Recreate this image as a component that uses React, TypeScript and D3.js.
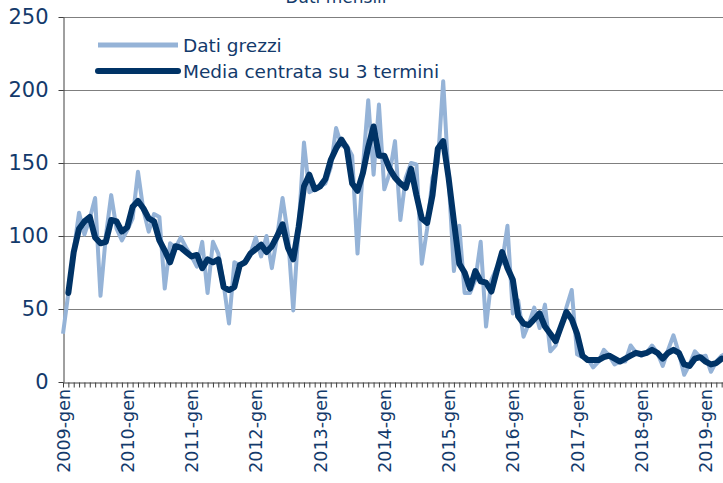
import * as d3 from "d3";
import { useEffect, useRef } from "react";

// anni e mesi dell'asse delle categorie
const years = [2009, 2010, 2011, 2012, 2013, 2014, 2015, 2016, 2017, 2018, 2019];
const monthNames = ["gen", "feb", "mar", "apr", "mag", "giu", "lug", "ago", "set", "ott", "nov", "dic"];
const yTicks = [0, 50, 100, 150, 200, 250];

// Dati grezzi (da 2009-gen)
const rawValues = [
  33, 61, 90, 116, 101, 112, 126, 59, 100, 128, 105, 97,
  104, 112, 144, 118, 103, 115, 113, 64, 95, 92, 99, 92,
  86, 79, 96, 61, 96, 88, 67, 40, 82, 80, 83, 88,
  99, 86, 100, 78, 100, 126, 101, 49, 106, 164, 130, 132,
  134, 136, 147, 174, 162, 162, 155, 88, 147, 193, 142, 190,
  132, 143, 165, 111, 140, 150, 149, 81, 105, 140, 150, 206,
  140, 76, 107, 61, 61, 70, 96, 38, 70, 78, 82, 107,
  47, 56, 31, 40, 51, 37, 53, 21, 25, 38, 51, 63,
  19, 17, 16, 10, 14, 22, 18, 12, 14, 14, 25, 20,
  18, 20, 25, 20, 11, 22, 32, 20, 5, 12, 21, 17,
  18, 7, 14, 18, 20,
];

// Media centrata su 3 termini (il primo mese manca)
const avgValues = [
  null, 61, 89, 105, 110, 113, 99, 95, 96, 111, 110, 103,
  106, 120, 124, 119, 112, 110, 97, 90, 82, 93, 92, 89,
  86, 87, 78, 84, 82, 84, 65, 63, 65, 80, 82, 88,
  91, 94, 89, 93, 100, 108, 92, 84, 106, 134, 142, 132,
  134, 139, 152, 160, 166, 160, 136, 131, 143, 161, 175, 155,
  155, 146, 140, 136, 133, 146, 128, 112, 109, 128, 160, 165,
  140, 110, 81, 75, 64, 76, 69, 68, 62, 76, 89, 78,
  70, 45, 40, 39, 43, 47, 38, 33, 28, 38, 48, 43,
  33, 18, 15, 15, 15, 17, 18, 16, 14, 16, 18, 20,
  19, 20, 22, 20, 16, 20, 22, 20, 12, 11, 16, 17,
  14, 12, 13, 16, null,
];

const labels = years.flatMap((y) => monthNames.map((m) => `${y}-${m}`)).slice(0, rawValues.length);

export default function App() {
  const ref = useRef<SVGSVGElement | null>(null);

  useEffect(() => {
    const width = 723;
    const height = 483;
    const margin = { top: 17, left: 63, bottom: 101 };
    const step = 5.355;
    const font = "'DejaVu Sans', Verdana, sans-serif";
    const textColor = "#133a6b";

    const svg = d3.select(ref.current);
    svg.selectAll("*").remove();

    const x = d3
      .scaleLinear()
      .domain([0, labels.length - 1])
      .range([margin.left, margin.left + (labels.length - 1) * step]);
    const y = d3
      .scaleLinear()
      .domain([0, 250])
      .range([height - margin.bottom, margin.top]);

    // titolo (tagliato in alto come nell'originale)
    svg
      .append("text")
      .attr("x", 336)
      .attr("y", 3)
      .attr("text-anchor", "middle")
      .attr("font-family", font)
      .attr("font-size", 17)
      .attr("fill", textColor)
      .text("Dati mensili");

    // griglia
    svg
      .append("g")
      .selectAll("line")
      .data(yTicks.filter((d) => d > 0))
      .join("line")
      .attr("x1", margin.left)
      .attr("x2", width)
      .attr("y1", (d) => y(d) + 0.5)
      .attr("y2", (d) => y(d) + 0.5)
      .attr("stroke", "#7f7f7f")
      .attr("stroke-width", 1);

    // asse y
    const yAxis = svg
      .append("g")
      .attr("transform", `translate(${margin.left + 0.5},0)`)
      .call(d3.axisLeft(y).tickValues(yTicks).tickSize(5).tickSizeOuter(0));
    yAxis.select(".domain").attr("stroke", "#404040");
    yAxis.selectAll(".tick line").attr("stroke", "#404040");
    yAxis
      .selectAll(".tick text")
      .attr("font-family", font)
      .attr("font-size", 21)
      .attr("fill", textColor)
      .attr("x", -15);

    // serie
    const rawLine = d3
      .line<number>()
      .x((_, i) => x(i))
      .y((d) => y(d));
    const avgLine = d3
      .line<number | null>()
      .defined((d) => d != null)
      .x((_, i) => x(i))
      .y((d) => y(d as number));

    svg
      .append("path")
      .datum(rawValues)
      .attr("fill", "none")
      .attr("stroke", "#95b3d7")
      .attr("stroke-width", 4)
      .attr("stroke-linejoin", "round")
      .attr("d", rawLine);

    svg
      .append("path")
      .datum(avgValues)
      .attr("fill", "none")
      .attr("stroke", "#003366")
      .attr("stroke-width", 6)
      .attr("stroke-linejoin", "round")
      .attr("stroke-linecap", "round")
      .attr("d", avgLine);

    // asse x
    const xAxis = svg
      .append("g")
      .attr("transform", `translate(0,${height - margin.bottom + 0.5})`)
      .call(
        d3
          .axisBottom(x)
          .tickValues(d3.range(labels.length))
          .tickSize(5)
          .tickSizeOuter(0)
          .tickFormat(() => "")
      );
    xAxis.select(".domain").attr("stroke", "#404040");
    xAxis.selectAll(".tick line").attr("stroke", "#404040");

    svg
      .append("g")
      .selectAll("text")
      .data(labels.map((l, i) => ({ l, i })).filter((d) => d.l.endsWith("-gen")))
      .join("text")
      .attr("transform", (d) => `translate(${x(d.i) + 6.5},${height - margin.bottom + 7}) rotate(-90)`)
      .attr("text-anchor", "end")
      .attr("font-family", font)
      .attr("font-size", 17.5)
      .attr("fill", textColor)
      .text((d) => d.l);

    // legenda
    const legend = [
      { name: "Dati grezzi", color: "#95b3d7", w: 5, cap: "butt", y: 45 },
      { name: "Media centrata su 3 termini", color: "#003366", w: 6, cap: "round", y: 71 },
    ];
    const lg = svg.append("g").selectAll("g").data(legend).join("g");
    lg.append("line")
      .attr("x1", 98)
      .attr("x2", 178)
      .attr("y1", (d) => d.y)
      .attr("y2", (d) => d.y)
      .attr("stroke", (d) => d.color)
      .attr("stroke-width", (d) => d.w)
      .attr("stroke-linecap", (d) => d.cap);
    lg.append("text")
      .attr("x", 183)
      .attr("y", (d) => d.y + 7)
      .attr("font-family", font)
      .attr("font-size", 18.5)
      .attr("fill", textColor)
      .text((d) => d.name);
  }, []);

  return (
    <svg
      ref={ref}
      width={723}
      height={483}
      style={{ position: "absolute", left: 0, top: 0, background: "#fff" }}
    />
  );
}
